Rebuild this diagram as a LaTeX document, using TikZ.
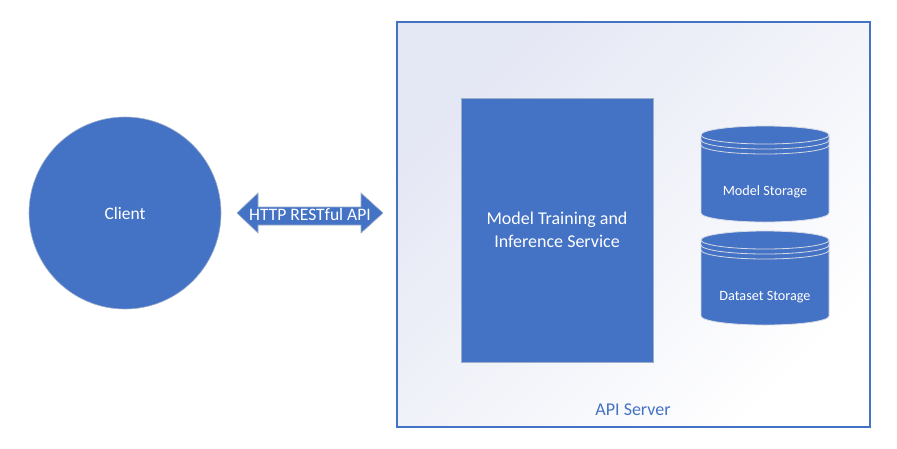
\documentclass[tikz,border=0pt]{standalone}
\usepackage{fontspec}
\setmainfont{Carlito}
\definecolor{acc}{HTML}{4472C4}
\definecolor{lav}{HTML}{E4E7F4}
\definecolor{rimline}{HTML}{D6DAE6}
\tikzset{
  lbl/.style={text=white, inner sep=0pt, align=center},
  bluefill/.style={fill=acc, draw=acc!60!gray!60, line width=0.6pt},
}
\newcommand{\mycyl}[4]{% x1, x2, ytop, ybot
  \draw[fill=acc, draw=rimline, line width=0.8pt] (#1,#3+9) -- (#1,#4-9)
     arc[start angle=180,end angle=0,x radius={((#2)-(#1))/2},y radius=9]
     -- (#2,#3+9)
     arc[start angle=0,end angle=-180,x radius={((#2)-(#1))/2},y radius=9] -- cycle;
  \draw[rimline, line width=0.8pt] (#1,#3+9) arc[start angle=180,end angle=0,x radius={((#2)-(#1))/2},y radius=9];
  \draw[rimline, line width=0.8pt] (#1,#3+14) arc[start angle=180,end angle=0,x radius={((#2)-(#1))/2},y radius=9];
  \draw[rimline, line width=0.8pt] (#1,#3+19) arc[start angle=180,end angle=0,x radius={((#2)-(#1))/2},y radius=9];
}
\begin{document}
\begin{tikzpicture}[x=1pt,y=-1pt]
\useasboundingbox (0,0) rectangle (897,448);
\fill[white] (0,0) rectangle (897,448);
% API server
\shade[top color=lav, bottom color=white, shading angle=45] (397,22) rectangle (870,427);
\draw[acc, line width=1.3pt] (397,22) rectangle (870,427);
\node[text=acc, font=\fontsize{18}{20}\selectfont, inner sep=0pt] (server) at (633,410) {API Server};
% client
\draw[bluefill] (125,213) circle[radius=96];
\node[lbl, font=\fontsize{17.5}{20}\selectfont] (client) at (125,213) {Client};
% arrow
\draw[fill=acc, draw=acc!60!gray!60, line width=0.6pt] (237,213) -- (258,193) -- (258,207) -- (361,207) -- (361,193) -- (383,213) -- (361,233) -- (361,225) -- (258,225) -- (258,233) -- cycle;
\node[lbl, font=\fontsize{17.5}{20}\selectfont] (api) at (310,214) {HTTP RESTful API};
% service
\draw[bluefill] (461,98) rectangle (653,362);
\node[lbl, font=\fontsize{18}{23.5}\selectfont] (svc) at (557,230) {Model Training and\\Inference Service};
% cylinders
\mycyl{701}{829}{126}{222}
\node[lbl, font=\fontsize{14.2}{16}\selectfont] (ms) at (765,192) {Model Storage};
\mycyl{701}{829}{231}{325}
\node[lbl, font=\fontsize{14.2}{16}\selectfont] (ds) at (765,297) {Dataset Storage};
\end{tikzpicture}
\end{document}
